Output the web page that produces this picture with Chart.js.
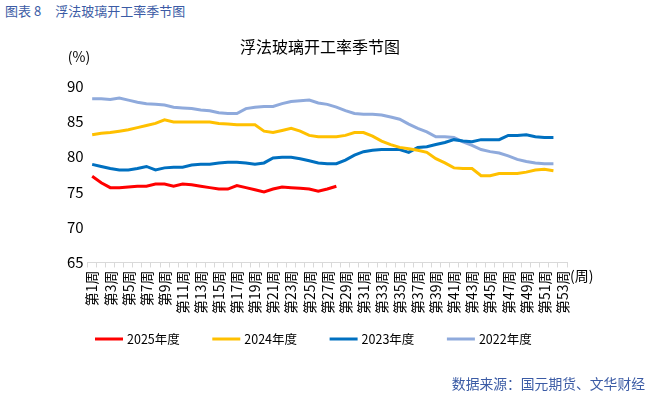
<!DOCTYPE html>
<html>
<head>
<meta charset="utf-8">
<script src="https://cdn.jsdelivr.net/npm/chart.js@4"></script>
<style>
  html, body { margin: 0; padding: 0; background: #fff; }
  body { width: 654px; height: 397px; position: relative; overflow: hidden; font-family: "Noto Sans CJK SC", sans-serif; }
  #wrap { position: absolute; left: 0; top: 0; width: 654px; height: 397px; }
  .head { position: absolute; left: 5px; top: 1px; font-size: 13px; color: #3b5ba5; }
  .head span { margin-left: 14px; }
  .foot { position: absolute; right: 9px; top: 373px; font-size: 13.8px; color: #3b5ba5; }
</style>
</head>
<body>
<div class="head">图表 8<span>浮法玻璃开工率季节图</span></div>
<div id="wrap"><canvas id="myChart"></canvas></div>
<div class="foot">数据来源：国元期货、文华财经</div>
<script>
// weeks 1..53
var weeks = [];
for (var i = 1; i <= 53; i++) weeks.push('第' + i + '周');

var seriesNames = ['2025年度', '2024年度', '2023年度', '2022年度'];
var seriesColors = ['#ff0000', '#ffc000', '#0070c0', '#8faadc'];

var y2025 = [77.2, 76.3, 75.6, 75.6, 75.7, 75.8, 75.8, 76.1, 76.1, 75.8,
             76.1, 76.0, 75.8, 75.6, 75.4, 75.4, 75.9, 75.6, 75.3, 75.0,
             75.4, 75.7, 75.6, 75.5, 75.4, 75.1, 75.4, 75.8];

var y2024 = [83.1, 83.3, 83.4, 83.6, 83.8, 84.1, 84.4, 84.7, 85.2, 84.9,
             84.9, 84.9, 84.9, 84.9, 84.7, 84.6, 84.5, 84.5, 84.5, 83.6,
             83.4, 83.7, 84.0, 83.6, 83.0, 82.8, 82.8, 82.8, 83.0, 83.4,
             83.4, 82.9, 82.2, 81.7, 81.3, 81.1, 80.9, 80.6, 79.7, 79.1,
             78.4, 78.3, 78.3, 77.3, 77.3, 77.6, 77.6, 77.6, 77.8, 78.1,
             78.2, 78.0];

var y2023 = [78.9, 78.6, 78.3, 78.1, 78.1, 78.3, 78.6, 78.1, 78.4, 78.5,
             78.5, 78.8, 78.9, 78.9, 79.1, 79.2, 79.2, 79.1, 78.9, 79.1,
             79.8, 79.9, 79.9, 79.7, 79.4, 79.1, 79.0, 79.0, 79.5, 80.2,
             80.7, 80.9, 81.0, 81.0, 81.0, 80.6, 81.3, 81.4, 81.7, 82.0,
             82.4, 82.2, 82.1, 82.4, 82.4, 82.4, 83.0, 83.0, 83.1, 82.8,
             82.7, 82.7];

var y2022 = [88.2, 88.2, 88.1, 88.3, 88.0, 87.7, 87.5, 87.4, 87.3, 87.0,
             86.9, 86.8, 86.6, 86.5, 86.2, 86.1, 86.1, 86.8, 87.0, 87.1,
             87.1, 87.5, 87.8, 87.9, 88.0, 87.6, 87.4, 87.0, 86.5, 86.1,
             86.0, 86.0, 85.9, 85.6, 85.3, 84.6, 84.0, 83.5, 82.8, 82.8,
             82.7, 82.1, 81.6, 81.0, 80.7, 80.5, 80.1, 79.6, 79.3, 79.1,
             79.0, 79.0];

var yTicks = [65, 70, 75, 80, 85, 90];

var allData = [y2025, y2024, y2023, y2022];
var datasets = allData.map(function (d, k) {
    return {
        label: seriesNames[k],
        data: d,
        borderColor: seriesColors[k],
        backgroundColor: seriesColors[k],
        borderWidth: 3,
        pointRadius: 0,
        tension: 0,
        fill: false
    };
});

var fontName = '"Noto Sans CJK SC", sans-serif';

// title, (%), (周) and the legend row
var extraTexts = {
    id: 'extraTexts',
    afterDraw: function (chart) {
        var c = chart.ctx;
        var area = chart.chartArea;
        c.save();
        c.fillStyle = '#000';
        c.textBaseline = 'middle';
        c.font = '16px ' + fontName;
        c.textAlign = 'center';
        c.fillText('浮法玻璃开工率季节图', 320, 47);
        c.font = '14px ' + fontName;
        c.fillText('(%)', 79, 57);
        c.textAlign = 'left';
        c.fillText('(周)', area.right + 3, area.bottom + 13);

        // legend
        c.font = '12.5px ' + fontName;
        chart.data.datasets.forEach(function (ds, k) {
            var x0 = 95 + k * 117.3;
            var y0 = 339;
            c.strokeStyle = ds.borderColor;
            c.lineWidth = 3;
            c.beginPath();
            c.moveTo(x0, y0);
            c.lineTo(x0 + 28, y0);
            c.stroke();
            c.fillStyle = '#000';
            c.fillText(ds.label, x0 + 32, y0);
        });
        c.restore();
    }
};

var ctx = document.getElementById('myChart').getContext('2d');
var myChart = new Chart(ctx, {
    type: 'line',
    data: { labels: weeks, datasets: datasets },
    plugins: [extraTexts],
    options: {
        responsive: true,
        maintainAspectRatio: false,
        animation: false,
        layout: { padding: { left: 63, right: 87, top: 86, bottom: 80 } },
        plugins: {
            title: { display: false },
            legend: { display: false },
            tooltip: { enabled: false }
        },
        scales: {
            x: {
                offset: true,
                grid: {
                    display: true,
                    offset: true,
                    drawOnChartArea: false,
                    drawTicks: true,
                    tickLength: 5,
                    color: '#d9d9d9'
                },
                border: { display: true, color: '#d9d9d9' },
                ticks: {
                    autoSkip: false,
                    minRotation: 90,
                    maxRotation: 90,
                    padding: 3,
                    color: '#000',
                    font: { size: 14, family: fontName },
                    callback: function (val, idx) {
                        return idx % 2 === 0 ? this.getLabelForValue(val) : '';
                    }
                }
            },
            y: {
                min: 65,
                max: 90,
                afterBuildTicks: function (scale) {
                    scale.ticks = yTicks.map(function (v) { return { value: v }; });
                },
                grid: { display: false, drawTicks: false },
                border: { display: false },
                ticks: {
                    color: '#000',
                    padding: 4,
                    font: { size: 15, family: fontName }
                }
            }
        }
    }
});
</script>
</body>
</html>
